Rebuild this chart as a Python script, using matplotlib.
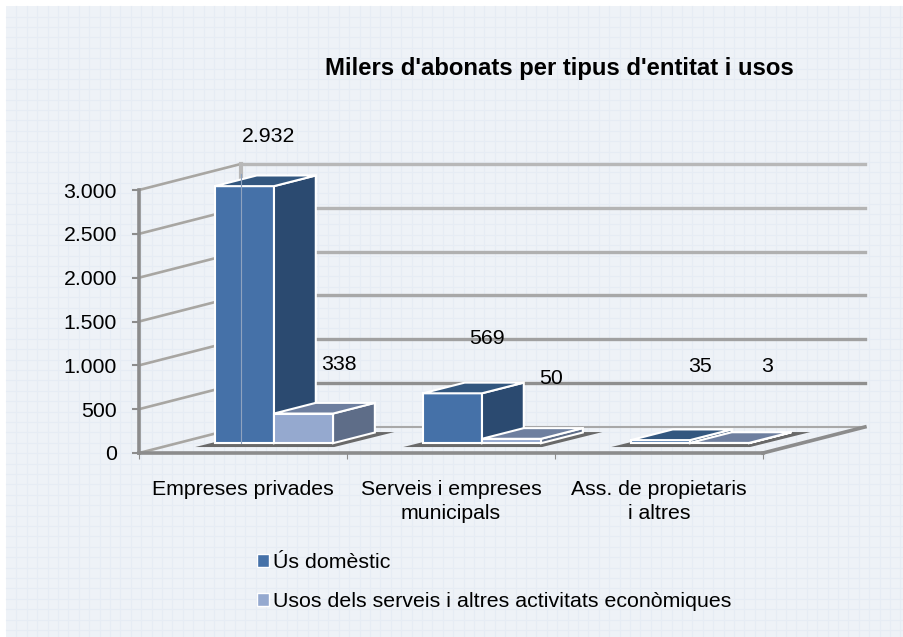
import numpy as np
import matplotlib
matplotlib.use('Agg')
import matplotlib.pyplot as plt
from matplotlib.patches import Polygon, Patch, Rectangle

categories = ['Empreses privades', 'Serveis i empreses\nmunicipals', 'Ass. de propietaris\ni altres']
series_names = ['Ús domèstic', 'Usos dels serveis i altres activitats econòmiques']
domestic = [2932, 569, 35]
services = [338, 50, 3]
value_labels = [['2.932', '569', '35'], ['338', '50', '3']]
y_ticks = [0, 500, 1000, 1500, 2000, 2500, 3000]
y_tick_labels = ['0', '500', '1.000', '1.500', '2.000', '2.500', '3.000']

plt.rcParams['font.family'] = ['Liberation Sans', 'DejaVu Sans']

W, H = 904, 637
BACK_X = 0.49    # category units, full depth of the floor
BACK_V = 297     # value units, full depth of the floor
BAR_D = 0.41     # bar depth as a share of the floor
BASE_V = 112     # bars stand a little behind the front edge
GROUP_X = 0.149
BAR_W = 0.284
AXIS = '#8c8c8c'
FONT = 15.3
# back wall lines get darker towards the floor
wall_colors = ['#8f8f8f', '#a0a0a0', '#a8a8a8', '#b0b0b0', '#b4b4b4', '#b8b8b8']
colors = [('#4571a8', '#2b4a70', '#33577f'), ('#95a9cf', '#5e6d88', '#6e7f9f')]

fig = plt.figure(figsize=(W / 100, H / 100), dpi=100, facecolor='white')

# page background with the squared paper
bg = fig.add_axes([0, 0, 1, 1])
bg.set_xlim(0, W)
bg.set_ylim(H, 0)
bg.axis('off')
bg.add_patch(Rectangle((6, 6), W - 6, H - 6, fc='#eef2f7', ec='none'))
for gx in np.arange(16.5, W, 10.4):
    bg.plot([gx, gx], [6, H], color='#e6ecf4', lw=0.8)
for gy in np.arange(16.5, H, 10.4):
    bg.plot([6, W], [gy, gy], color='#e6ecf4', lw=0.8)

# front plane of the 3d box
ax = fig.add_axes([139 / W, 1 - 453 / H, 624 / W, 263 / H])
ax.patch.set_alpha(0)
ax.set_xlim(0, 3)
ax.set_ylim(0, 3000)


def floor(x, v, d):
    return (x + BACK_X * d, v + BACK_V * d)


# walls
for t, c in zip(y_ticks[1:], wall_colors):
    ax.plot([0, BACK_X], [t, t + BACK_V], color='#a8a6a2', lw=1.9, clip_on=False, zorder=0.5)
    ax.plot([BACK_X, 3 + BACK_X], [t + BACK_V, t + BACK_V], color=c, lw=2.4, clip_on=False, zorder=0.5)
ax.plot([BACK_X, 3 + BACK_X], [BACK_V, BACK_V], color='#a8a8a8', lw=1.5, clip_on=False, zorder=0.5)
ax.plot([BACK_X, BACK_X], [BACK_V, 3000 + BACK_V], color='#b8b8b8', lw=3, clip_on=False, zorder=0.5)
ax.plot([0, BACK_X], [0, BACK_V], color='#a8a6a2', lw=1.9, clip_on=False, zorder=0.5)
ax.plot([3, 3 + BACK_X], [0, BACK_V], color=AXIS, lw=2.6, clip_on=False, zorder=0.5)

# shadows on the floor
for i in range(3):
    x0 = i + GROUP_X + 0.5 - BAR_W - 0.095
    x1 = x0 + 2 * BAR_W + 0.1
    ax.add_patch(Polygon([(x0, 68), (x1, 68), (x1 + 0.29, 239), (x0 + 0.29, 239)],
                         fc='#696969', ec='none', clip_on=False, zorder=0.8))

# bars
for s, vals in enumerate([domestic, services]):
    front, side, top = colors[s]
    for i, v in enumerate(vals):
        x0 = i + 0.5 + GROUP_X - BAR_W + s * BAR_W
        x1 = x0 + BAR_W
        v0, v1 = BASE_V, BASE_V + v
        ax.add_patch(Polygon([(x0, v0), (x1, v0), (x1, v1), (x0, v1)],
                             fc=front, ec='white', lw=1.5, clip_on=False, zorder=1))
        ax.add_patch(Polygon([(x1, v0), floor(x1, v0, BAR_D), floor(x1, v1, BAR_D), (x1, v1)],
                             fc=side, ec='white', lw=1.5, clip_on=False, zorder=1))
        ax.add_patch(Polygon([(x0, v1), (x1, v1), floor(x1, v1, BAR_D), floor(x0, v1, BAR_D)],
                             fc=top, ec='white', lw=1.5, clip_on=False, zorder=1))

# back wall edge shows through the first bar
ax.plot([BACK_X, BACK_X], [BASE_V, 3000 + BACK_V - 120], color='#8fa3bf', lw=0.8, clip_on=False, zorder=2)

# axes
for name in ['top', 'right']:
    ax.spines[name].set_visible(False)
ax.spines['left'].set_color(AXIS)
ax.spines['left'].set_linewidth(2.6)
ax.spines['bottom'].set_color(AXIS)
ax.spines['bottom'].set_linewidth(2.6)
ax.set_yticks(y_ticks)
ax.set_yticklabels(y_tick_labels)
ax.tick_params(axis='y', length=5, width=1.5, color=AXIS, labelsize=FONT, pad=11)
ax.set_xticks([0, 1, 2, 3])
ax.set_xticklabels([])
ax.tick_params(axis='x', which='major', length=4, width=0.8, color=AXIS)
ax.set_xticks([0.5, 1.5, 2.5], minor=True)
ax.set_xticklabels(categories, minor=True, fontsize=FONT, linespacing=1.3, va='top')
ax.tick_params(axis='x', which='minor', length=0, pad=19.5)

# value labels sit where the original chart left them
label_pos = [[(269, 137), (487, 338), (700, 366)], [(339, 364), (551, 378), (767, 367)]]
for s in range(2):
    for i in range(3):
        px, py = label_pos[s][i]
        ax.text(px, py, value_labels[s][i], fontsize=FONT, ha='center', va='center', zorder=5,
                transform=bg.transData, clip_on=False)

bg.set_zorder(0)
ax.set_zorder(1)
fig.text(559 / W, 1 - 68 / H, "Milers d'abonats per tipus d'entitat i usos", fontsize=17.2,
         fontweight='bold', ha='center', va='center')

handles = [Patch(fc=colors[0][0], ec='white', lw=1), Patch(fc=colors[1][0], ec='white', lw=1)]
fig.legend(handles, series_names, loc='upper left', bbox_to_anchor=(257.5 / W, 1 - 553 / H), frameon=False,
           fontsize=15.4, handlelength=0.55, handleheight=0.55, handletextpad=0.17,
           labelspacing=0.95, borderpad=0, borderaxespad=0)

fig.savefig('out.png', dpi=100)
